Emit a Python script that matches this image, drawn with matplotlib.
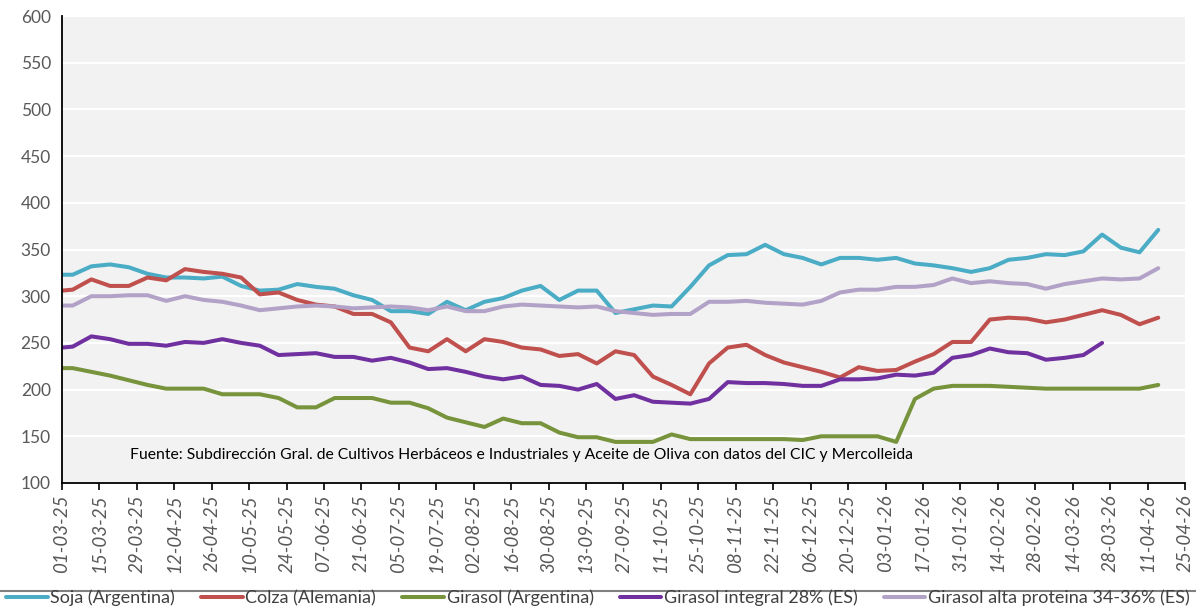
import numpy as np
import pandas as pd
import matplotlib.pyplot as plt
import matplotlib.dates as mdates
from matplotlib.lines import Line2D

plt.rcParams['font.family'] = ['Lato', 'DejaVu Sans']

# Fechas: primer punto 01-03-25, luego semanal (miércoles)
fechas = pd.to_datetime(["2025-03-01"]).append(pd.date_range("2025-03-05", periods=59, freq="7D"))

soja = [323, 323, 332, 334, 331, 324, 320, 320, 319, 321, 311, 306, 307, 313,
        310, 308, 301, 296, 284, 284, 281, 294, 285, 294, 298, 306,
        311, 296, 306, 306, 282, 286, 290, 289, 310, 333, 344, 345, 355,
        345, 341, 334, 341, 341, 339, 341, 335, 333, 330, 326, 330,
        339, 341, 345, 344, 348, 366, 352, 347, 371]

colza = [306, 307, 318, 311, 311, 320, 317, 329, 326, 324, 320, 302, 304, 296,
         291, 289, 281, 281, 272, 245, 241, 254, 241, 254, 251, 245,
         243, 236, 238, 228, 241, 237, 214, 205, 195, 228, 245, 248, 237,
         229, 224, 219, 213, 224, 220, 221, 230, 238, 251, 251, 275,
         277, 276, 272, 275, 280, 285, 280, 270, 277]

girasol_arg = [223, 223, 219, 215, 210, 205, 201, 201, 201, 195, 195, 195, 191, 181,
               181, 191, 191, 191, 186, 186, 180, 170, 165, 160, 169, 164,
               164, 154, 149, 149, 144, 144, 144, 152, 147, 147, 147, 147, 147,
               147, 146, 150, 150, 150, 150, 144, 190, 201, 204, 204, 204,
               203, 202, 201, 201, 201, 201, 201, 201, 205]

girasol_integral = [245, 246, 257, 254, 249, 249, 247, 251, 250, 254, 250, 247, 237, 238,
                    239, 235, 235, 231, 234, 229, 222, 223, 219, 214, 211, 214,
                    205, 204, 200, 206, 190, 194, 187, 186, 185, 190, 208, 207, 207,
                    206, 204, 204, 211, 211, 212, 216, 215, 218, 234, 237, 244,
                    240, 239, 232, 234, 237, 250, np.nan, np.nan, np.nan]

girasol_alta = [290, 290, 300, 300, 301, 301, 295, 300, 296, 294, 290, 285, 287, 289,
                290, 289, 287, 288, 289, 288, 285, 289, 284, 284, 289, 291,
                290, 289, 288, 289, 284, 282, 280, 281, 281, 294, 294, 295, 293,
                292, 291, 295, 304, 307, 307, 310, 310, 312, 319, 314, 316,
                314, 313, 308, 313, 316, 319, 318, 319, 330]

series = [
    ("Soja (Argentina)", soja, "#4BACC6"),
    ("Colza (Alemania)", colza, "#C0504D"),
    ("Girasol (Argentina)", girasol_arg, "#77933C"),
    ("Girasol integral 28% (ES)", girasol_integral, "#7030A0"),
    ("Girasol alta proteina 34-36% (ES)", girasol_alta, "#B3A2C7"),
]

fig = plt.figure(figsize=(11.96, 6.09), dpi=100)
ax = fig.add_axes([0.0518, 0.2069, 0.939, 0.7668])
ax.set_facecolor("#F2F2F2")

for name, vals, color in series:
    ax.plot(fechas, vals, color=color, linewidth=2.9, label=name,
            solid_capstyle="round", solid_joinstyle="round")

ax.set_ylim(100, 600)
ax.set_yticks(range(100, 601, 50))
ax.set_xlim(pd.Timestamp("2025-03-01"), pd.Timestamp("2026-04-25"))
ticks = pd.date_range("2025-03-01", "2026-04-25", freq="14D")
ax.set_xticks(ticks)
ax.xaxis.set_major_formatter(mdates.DateFormatter("%d-%m-%y"))

ax.grid(axis="y", color="white", linewidth=1.6)
ax.set_axisbelow(True)
for s in ["top", "right"]:
    ax.spines[s].set_visible(False)
ax.spines["left"].set_linewidth(1.3)
ax.spines["bottom"].set_linewidth(1.3)

ax.tick_params(axis="y", length=0, pad=8, labelsize=12.5, labelcolor="#595959")
ax.tick_params(axis="x", length=5, width=1.2, direction="out", pad=3,
               labelsize=13.5, labelcolor="#595959")
for lab in ax.get_xticklabels():
    lab.set_rotation(90)
    lab.set_style("italic")

ax.text(0.0606, 130,
        "Fuente: Subdirección Gral. de Cultivos Herbáceos e Industriales y Aceite de Oliva con datos del CIC y Mercolleida",
        transform=ax.get_yaxis_transform(), va="center", ha="left", fontsize=11.3, color="black")

# Leyenda inferior
fig.add_artist(Line2D([0, 1], [0.0296, 0.0296], color="#808080", linewidth=1.5,
                      transform=fig.transFigure))
fig.legend(loc="center", bbox_to_anchor=(0.5, 0.018), ncol=5, frameon=False,
           fontsize=13, handlelength=2.3, handletextpad=0.15, columnspacing=1.45,
           labelcolor="#404040")

fig.savefig("out.png", dpi=100)
